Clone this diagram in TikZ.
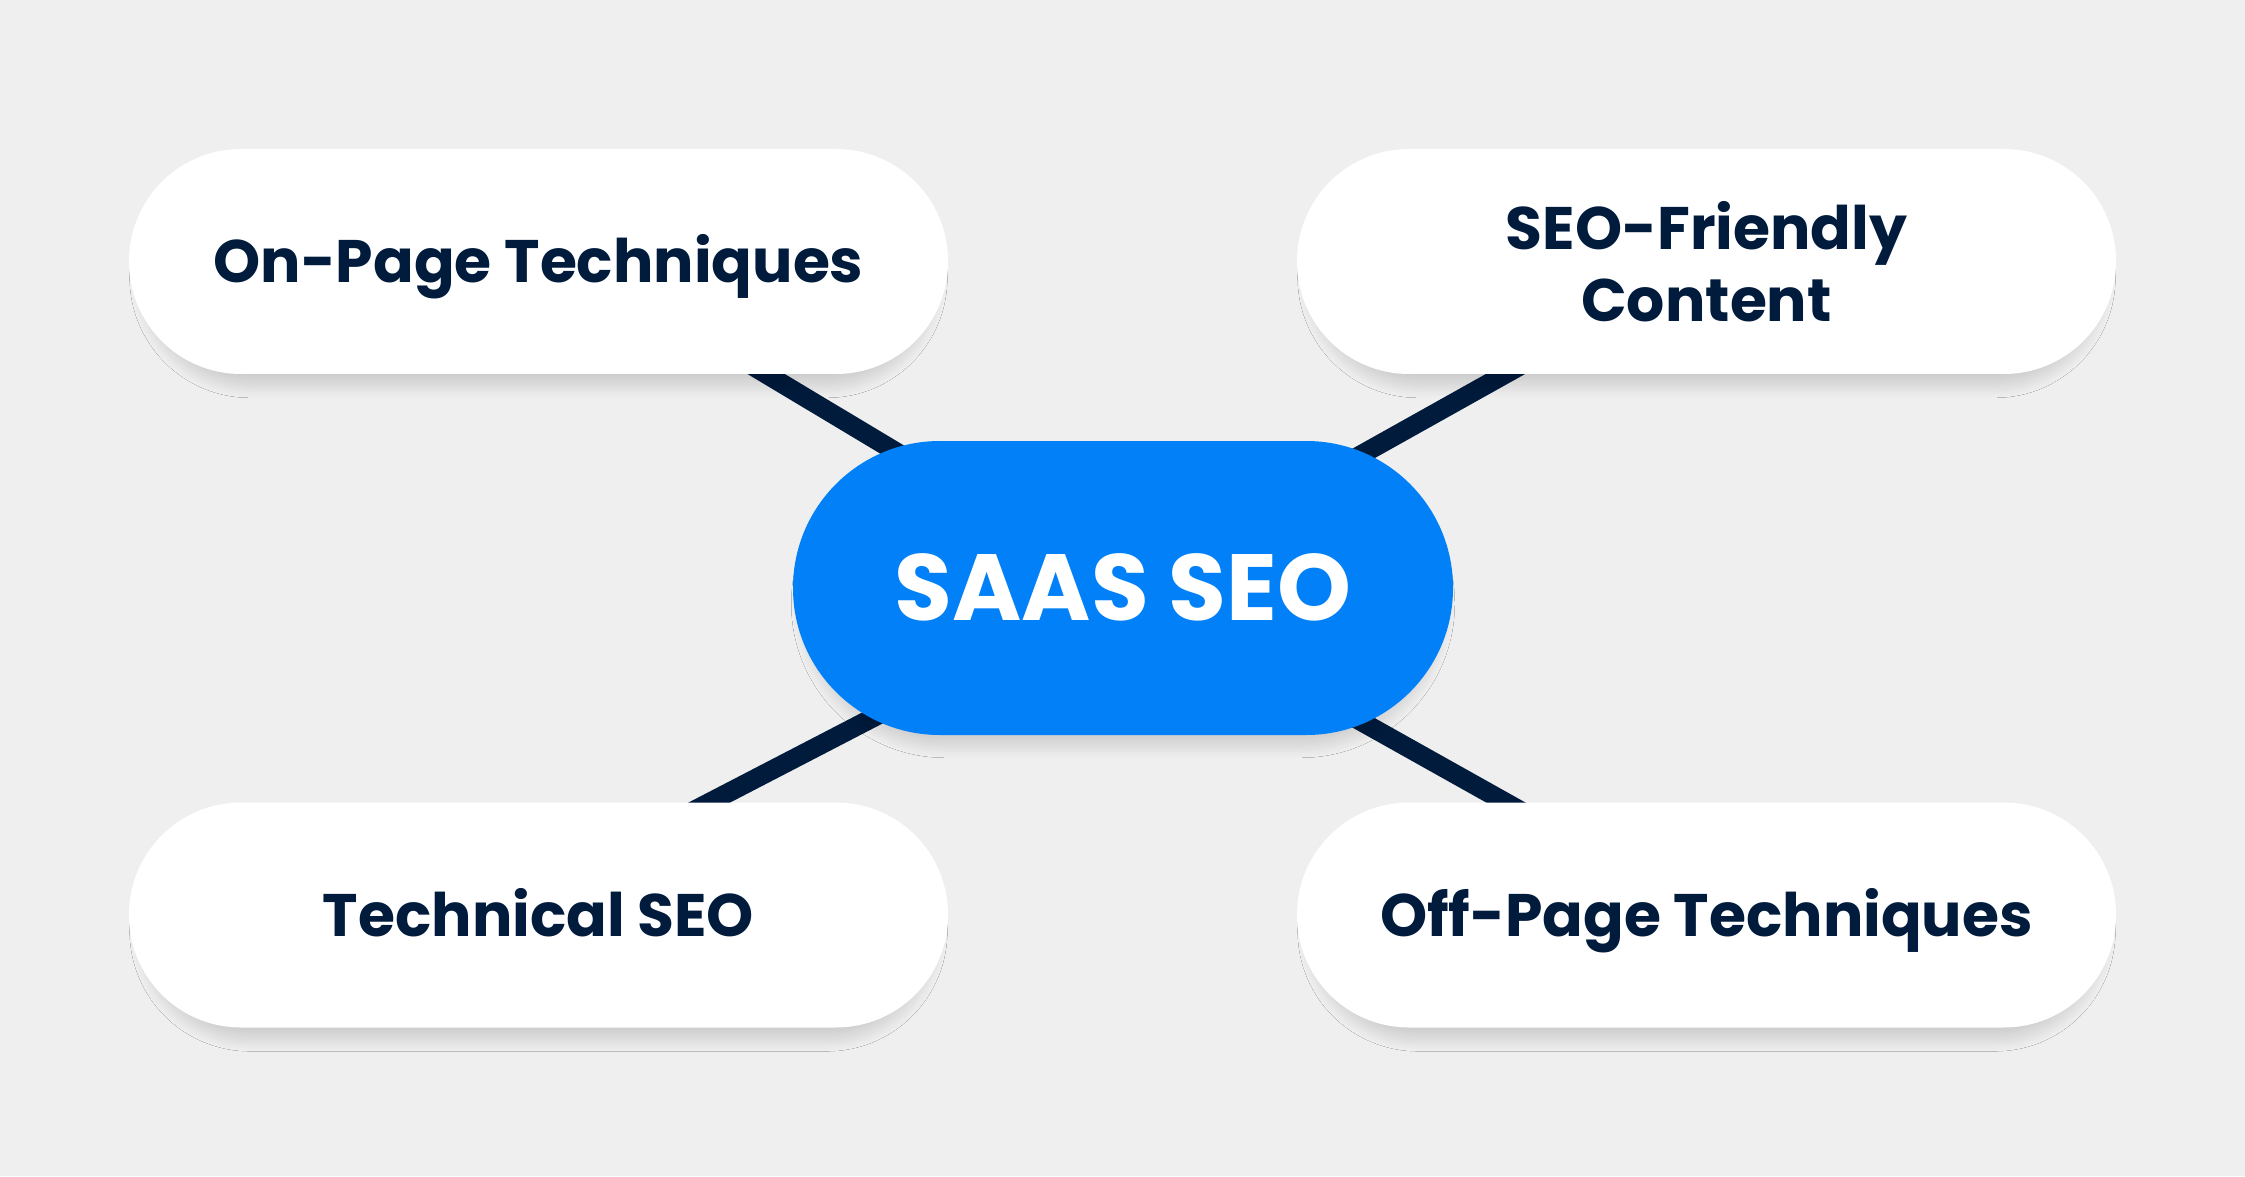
\documentclass[tikz,border=0pt]{standalone}
\usepackage{fontspec}
\setmainfont{Poppins}
\usepackage{tikz}
\usetikzlibrary{backgrounds,shadows.blur}
\definecolor{bgGrey}{RGB}{239,239,239}
\definecolor{seoBlue}{RGB}{2,128,247}
\definecolor{seoNavy}{RGB}{1,27,61}

\begin{document}
\begin{tikzpicture}[x=0.25pt,y=0.25pt,yscale=-1,xscale=1,
  pill/.style={rectangle,rounded corners=28pt,minimum width=204.75pt,minimum height=56.25pt,inner sep=0pt,
    fill=white,text=seoNavy,align=center,font=\fontsize{15}{18}\selectfont\bfseries,
    blur shadow={shadow xshift=0pt,shadow yshift=-4pt,shadow scale=0.97,shadow blur radius=3pt,shadow blur steps=16,shadow opacity=14}},
  hub/.style={pill,fill=seoBlue,text=white,rounded corners=36.7pt,minimum width=165pt,minimum height=73.5pt,
    font=\fontsize{23.5}{27}\selectfont\bfseries,text height=16.3pt,text depth=0pt},
  oneline/.style={text height=10.6pt,text depth=0pt},
  link/.style={draw=seoNavy,line width=4.8pt}]

%Shape: Pill [hub]
\node[hub] (saas) at (1123,588) {SAAS SEO};
%Shape: Pill [leaves]
\node[pill,oneline] (onpage) at (538.5,261.5) {On-Page Techniques};
\node[pill] (friendly) at (1706.5,261.5) {SEO-Friendly\\Content};
\node[pill,oneline] (technical) at (538.5,915) {Technical SEO};
\node[pill,oneline] (offpage) at (1706.5,915) {Off-Page Techniques};

\begin{scope}[on background layer]
\fill[bgGrey] (0,0) rectangle (2245,1176);
%Straight Lines
\draw[link] (saas.center) -- ([xshift=10pt]onpage.center);
\draw[link] (saas.center) -- (friendly.center);
\draw[link] (saas.center) -- ([xshift=-11.5pt]technical.center);
\draw[link] (saas.center) -- (offpage.center);
\end{scope}

\end{tikzpicture}
\end{document}
